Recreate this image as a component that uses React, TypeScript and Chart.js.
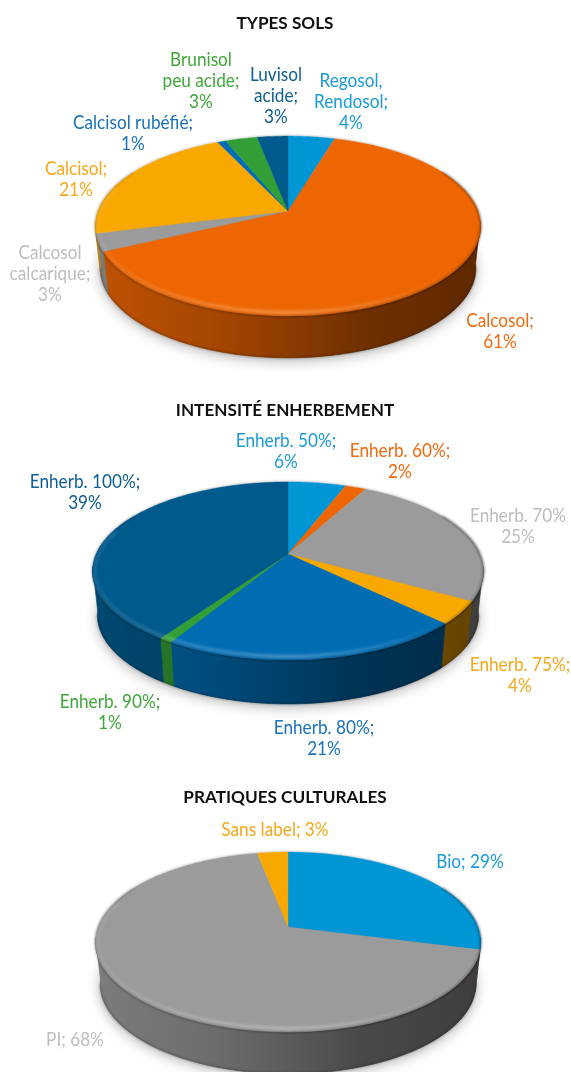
import React, { useEffect, useRef } from "react";
import { Chart, registerables } from "chart.js";

Chart.register(...registerables);

// ---------- data ----------
const solsCategories = ["Regosol, Rendosol", "Calcosol", "Calcosol calcarique", "Calcisol", "Calcisol rubéfié", "Brunisol peu acide", "Luvisol acide"];
const solsValues = [4.4, 60.6, 3, 21, 0.8, 3, 2.9];
const solsColors = ["#0095d4", "#ee6602", "#9b9b9b", "#f9a800", "#006db3", "#339e35", "#005a8c"];

const enherbCategories = ["Enherb. 50%", "Enherb. 60%", "Enherb. 70%", "Enherb. 75%", "Enherb. 80%", "Enherb. 90%", "Enherb. 100%"];
const enherbValues = [5.6, 2, 24.8, 4, 20.5, 0.9, 39.4];
const enherbColors = ["#0095d4", "#ee6602", "#9b9b9b", "#f9a800", "#006db3", "#339e35", "#005a8c"];

const pratiquesCategories = ["Bio", "PI", "Sans label"];
const pratiquesValues = [29, 68, 3];
const pratiquesColors = ["#0095d4", "#9b9b9b", "#f9a800"];

type Lbl = { lines: string[]; x: number; y: number; color: string };

const solsLabels: Lbl[] = [
  { lines: ["Regosol,", "Rendosol;", "4%"], x: 351, y: 81, color: "#1b9bd7" },
  { lines: ["Calcosol;", "61%"], x: 500, y: 321, color: "#ee6c12" },
  { lines: ["Calcosol", "calcarique;", "3%"], x: 50, y: 253, color: "#bdbdbd" },
  { lines: ["Calcisol;", "21%"], x: 76, y: 169, color: "#f5a81c" },
  { lines: ["Calcisol rubéfié;", "1%"], x: 133, y: 123, color: "#1a72b8" },
  { lines: ["Brunisol", "peu acide;", "3%"], x: 201, y: 60, color: "#3fa73a" },
  { lines: ["Luvisol", "acide;", "3%"], x: 276, y: 75, color: "#0f5f92" },
];
const enherbLabels: Lbl[] = [
  { lines: ["Enherb. 50%;", "6%"], x: 286, y: 441, color: "#1b9bd7" },
  { lines: ["Enherb. 60%;", "2%"], x: 400, y: 451, color: "#ee6c12" },
  { lines: ["Enherb. 70%", "25%"], x: 518, y: 516, color: "#bdbdbd" },
  { lines: ["Enherb. 75%;", "4%"], x: 520, y: 665, color: "#f5a81c" },
  { lines: ["Enherb. 80%;", "21%"], x: 324, y: 728, color: "#1a72b8" },
  { lines: ["Enherb. 90%;", "1%"], x: 110, y: 702, color: "#3fa73a" },
  { lines: ["Enherb. 100%;", "39%"], x: 85, y: 482, color: "#0f5f92" },
];
const pratiquesLabels: Lbl[] = [
  { lines: ["Bio; 29%"], x: 470, y: 862, color: "#1b9bd7" },
  { lines: ["PI; 68%"], x: 75, y: 1040, color: "#bdbdbd" },
  { lines: ["Sans label; 3%"], x: 275, y: 830, color: "#f5a81c" },
];

// ---------- drawing helpers ----------
const LABEL_FONT = '18.5px Lato, "Open Sans", sans-serif';
const TITLE_FONT = 'bold 17.5px Lato, "Open Sans", sans-serif';
const LABEL_SQUEEZE = 0.93;
const TITLE_SQUEEZE = 0.98;
const LINE_HEIGHT = 21;

function shade(hex: string, f: number) {
  const n = parseInt(hex.slice(1), 16);
  const c = [(n >> 16) & 255, (n >> 8) & 255, n & 255].map((v) => Math.round(v * f));
  return `rgb(${c[0]},${c[1]},${c[2]})`;
}

const pie3d = {
  id: "pie3d",
  beforeDatasetDraw(chart: any, args: any, opts: any) {
    const ctx: CanvasRenderingContext2D = chart.ctx;
    const meta = chart.getDatasetMeta(0);
    const arcs: any[] = meta.data;
    const colors: string[] = chart.data.datasets[0].backgroundColor;
    const { persp: k, ratio, depth, baseScale } = opts;
    const cx = arcs[0].x;
    const cy = arcs[0].y;
    const R = arcs[0].outerRadius;
    const B = R * ratio;
    const top = (t: number): [number, number] => {
      const s = Math.sin(t), v = -Math.cos(t), w = 1 - k * v;
      return [cx + (R * s) / w, cy + (B * v) / w];
    };
    const bottom = (t: number): [number, number] => {
      const p = top(t);
      return [cx + (p[0] - cx) * baseScale, p[1] + depth];
    };
    const midY = (top(0)[1] + top(Math.PI)[1]) / 2;
    const inset = (t: number): [number, number] => {
      const p = top(t);
      return [cx + (p[0] - cx) * 0.988, midY + (p[1] - midY) * 0.962];
    };
    const trace = (f: (t: number) => [number, number], a: number, b: number, n: number) => {
      ctx.beginPath();
      for (let i = 0; i <= n; i++) {
        const p = f(a + ((b - a) * i) / n);
        if (i) ctx.lineTo(p[0], p[1]);
        else ctx.moveTo(p[0], p[1]);
      }
    };
    const rimPath = (f: (t: number) => [number, number]) => {
      trace(f, 0, Math.PI * 2, 240);
      ctx.closePath();
    };
    const theta = (a: any) => [a.startAngle + Math.PI / 2, a.endAngle + Math.PI / 2];
    const vis = Math.acos(-k); // rim is visible where -cos(t) > k

    ctx.save();
    // soft ground shadow
    ctx.save();
    ctx.shadowColor = "rgba(0,0,0,0.3)";
    ctx.shadowBlur = 13;
    ctx.shadowOffsetY = 3;
    ctx.fillStyle = "#888";
    rimPath(bottom);
    ctx.fill();
    ctx.restore();

    // walls
    const gx0 = cx - R, gx1 = cx + R;
    arcs.forEach((a, i) => {
      const [t0, t1] = theta(a);
      const from = Math.max(t0, vis - 0.05);
      const to = Math.min(t1, 2 * Math.PI - vis + 0.05);
      if (to <= from) return;
      const g = ctx.createLinearGradient(gx0, 0, gx1, 0);
      g.addColorStop(0, shade(colors[i], 0.8));
      g.addColorStop(0.3, shade(colors[i], 0.7));
      g.addColorStop(0.7, shade(colors[i], 0.47));
      g.addColorStop(1, shade(colors[i], 0.4));
      ctx.fillStyle = g;
      ctx.strokeStyle = g;
      ctx.lineWidth = 0.6;
      const steps = Math.max(2, Math.ceil((to - from) * 60));
      trace(top, from, to, steps);
      for (let j = steps; j >= 0; j--) {
        const p = bottom(from + ((to - from) * j) / steps);
        ctx.lineTo(p[0], p[1]);
      }
      ctx.closePath();
      ctx.fill();
      ctx.stroke();
    });

    // darker lower edge of the wall
    ctx.save();
    ctx.filter = "blur(1px)";
    ctx.strokeStyle = "rgba(0,0,0,0.22)";
    ctx.lineWidth = 2;
    trace(bottom, vis, 2 * Math.PI - vis, 120);
    ctx.stroke();
    ctx.restore();

    // back edge softening
    ctx.save();
    ctx.filter = "blur(1.2px)";
    ctx.strokeStyle = "rgba(0,0,0,0.25)";
    ctx.lineWidth = 1.6;
    rimPath(top);
    ctx.stroke();
    ctx.restore();

    // top surface
    arcs.forEach((a, i) => {
      const [t0, t1] = theta(a);
      ctx.fillStyle = colors[i];
      ctx.strokeStyle = colors[i];
      ctx.lineWidth = 0.4;
      ctx.beginPath();
      ctx.moveTo(cx, cy);
      const steps = Math.max(2, Math.ceil((t1 - t0) * 60));
      for (let j = 0; j <= steps; j++) {
        const p = top(t0 + ((t1 - t0) * j) / steps);
        ctx.lineTo(p[0], p[1]);
      }
      ctx.closePath();
      ctx.fill();
      ctx.stroke();
    });

    // dark shoulder on the right part of the rim
    ctx.save();
    ctx.filter = "blur(1.3px)";
    const sh = ctx.createLinearGradient(gx0, 0, gx1, 0);
    sh.addColorStop(0, "rgba(0,0,0,0.1)");
    sh.addColorStop(0.5, "rgba(0,0,0,0.14)");
    sh.addColorStop(1, "rgba(0,0,0,0.3)");
    ctx.strokeStyle = sh;
    ctx.lineWidth = 2.2;
    trace(top, Math.PI / 2 - 0.5, 1.5 * Math.PI + 0.5, 120);
    ctx.stroke();
    ctx.restore();

    // inset bevel highlight, strongest on the front left, fading to the right
    ctx.save();
    ctx.filter = "blur(1.6px)";
    const hl = ctx.createLinearGradient(gx0, 0, gx1, 0);
    hl.addColorStop(0, "rgba(255,255,255,0.1)");
    hl.addColorStop(0.5, "rgba(255,255,255,0.32)");
    hl.addColorStop(0.75, "rgba(255,255,255,0.14)");
    hl.addColorStop(0.92, "rgba(255,255,255,0)");
    ctx.strokeStyle = hl;
    ctx.lineWidth = 3;
    trace(inset, Math.PI / 2, 1.5 * Math.PI + 0.3, 120);
    ctx.stroke();
    ctx.restore();

    ctx.restore();
    return false; // the library's flat arcs are replaced by the tilted ones above
  },
};

const textPlugin = {
  id: "pieText",
  afterDatasetsDraw(chart: any, args: any, opts: any) {
    const ctx: CanvasRenderingContext2D = chart.ctx;
    ctx.save();
    ctx.textAlign = "center";
    ctx.textBaseline = "middle";
    ctx.font = TITLE_FONT;
    ctx.fillStyle = "#111";
    ctx.fillText(opts.title, 285, opts.titleY - opts.offset, ctx.measureText(opts.title).width * TITLE_SQUEEZE);
    ctx.font = LABEL_FONT;
    opts.labels.forEach((l: Lbl) => {
      ctx.fillStyle = l.color;
      l.lines.forEach((t, i) =>
        ctx.fillText(t, l.x, l.y - opts.offset + i * LINE_HEIGHT, ctx.measureText(t).width * LABEL_SQUEEZE)
      );
    });
    ctx.restore();
  },
};

type PieProps = {
  title: string; titleY: number; cats: string[]; values: number[]; colors: string[]; labels: Lbl[];
  apexY: number; radius: number; persp: number; ratio: number; depth: number;
};

const CANVAS_H = 430;

function Pie3D(p: PieProps) {
  const ref = useRef<HTMLCanvasElement>(null);
  const offset = p.apexY - CANVAS_H / 2;
  useEffect(() => {
    const side = 288 - p.radius;
    const chart = new Chart(ref.current!, {
      type: "pie",
      data: { labels: p.cats, datasets: [{ data: p.values, backgroundColor: p.colors, borderWidth: 0 }] },
      options: {
        animation: false,
        responsive: false,
        layout: { padding: { left: side, right: 571 - 288 - p.radius, top: CANVAS_H / 2 - p.radius, bottom: CANVAS_H / 2 - p.radius } },
        plugins: {
          legend: { display: false },
          tooltip: { enabled: false },
          pie3d: { persp: p.persp, ratio: p.ratio, depth: p.depth, baseScale: 0.975 },
          pieText: { title: p.title, titleY: p.titleY, labels: p.labels, offset },
        } as any,
      },
      plugins: [pie3d, textPlugin],
    } as any);
    return () => chart.destroy();
  }, []);
  return (
    <canvas
      ref={ref}
      width={571}
      height={CANVAS_H}
      style={{ position: "absolute", left: 0, top: offset, width: 571, height: CANVAS_H }}
    />
  );
}

export default function App() {
  useEffect(() => {
    document.body.style.margin = "0";
  }, []);
  return (
    <div style={{ position: "relative", width: 571, height: 1072, overflow: "hidden", background: "#fff" }}>
      <Pie3D title="TYPES SOLS" titleY={23} cats={solsCategories} values={solsValues} colors={solsColors} labels={solsLabels}
        apexY={211} radius={190} persp={0.1667} ratio={0.46} depth={42} />
      <Pie3D title="INTENSITÉ ENHERBEMENT" titleY={410} cats={enherbCategories} values={enherbValues} colors={enherbColors} labels={enherbLabels}
        apexY={554} radius={192} persp={0.19} ratio={0.447} depth={44} />
      <Pie3D title="PRATIQUES CULTURALES" titleY={797} cats={pratiquesCategories} values={pratiquesValues} colors={pratiquesColors} labels={pratiquesLabels}
        apexY={927} radius={190} persp={0.1667} ratio={0.46} depth={42} />
    </div>
  );
}
